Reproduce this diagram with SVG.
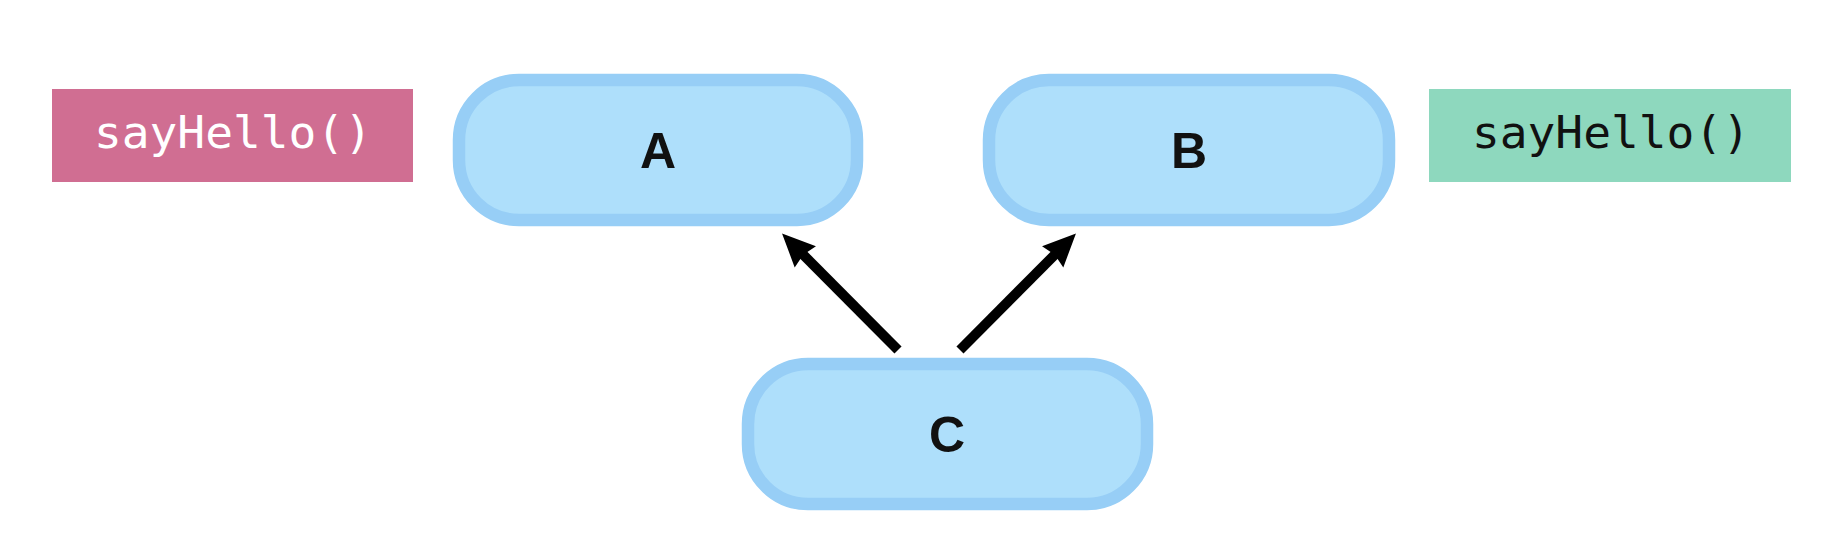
<svg xmlns="http://www.w3.org/2000/svg" width="1830" height="534" viewBox="0 0 1830 534">
  <style>
    .node rect { fill: #AEDFFB; stroke: #97CEF6; stroke-width: 12.5; }
    .node text { font-family: "Liberation Sans", Arial, sans-serif; font-weight: bold; font-size: 50px; fill: #111111; text-anchor: middle; }
    .code text { font-family: "DejaVu Sans Mono", "Liberation Mono", monospace; font-size: 44px; text-anchor: middle; }
    .edge { stroke: #000000; stroke-width: 10; fill: none; stroke-linecap: butt; }
  </style>
  <defs>
    <marker id="arrow" markerUnits="userSpaceOnUse" markerWidth="36" markerHeight="32" refX="4" refY="15" orient="auto" overflow="visible">
      <path d="M0,0 L33,15 L0,30 L3,15 Z" fill="#000000"/>
    </marker>
  </defs>
  <rect width="1830" height="534" fill="#FFFFFF"/>

  <g id="label-a" class="code">
    <rect x="52" y="89" width="361" height="93" fill="#D06E92"/>
    <text transform="translate(233 148) scale(1.05 1)" x="0" y="0" fill="#FFFFFF">sayHello()</text>
  </g>

  <g id="label-b" class="code">
    <rect x="1429" y="89" width="362" height="93" fill="#8ED8BE"/>
    <text transform="translate(1611 148) scale(1.05 1)" x="0" y="0" fill="#111111">sayHello()</text>
  </g>

  <g id="node-a" class="node">
    <rect x="459" y="80" width="398" height="140" rx="60" ry="60"/>
    <text x="658" y="168">A</text>
  </g>

  <g id="node-b" class="node">
    <rect x="989" y="80" width="400" height="140" rx="60" ry="60"/>
    <text x="1189" y="168">B</text>
  </g>

  <g id="node-c" class="node">
    <rect x="748" y="364" width="399" height="140" rx="60" ry="60"/>
    <text x="947" y="452">C</text>
  </g>

  <g id="connectors">
    <line class="edge" x1="898" y1="350" x2="802.5" y2="254" marker-end="url(#arrow)"/>
    <line class="edge" x1="960" y1="350" x2="1055.5" y2="254" marker-end="url(#arrow)"/>
  </g>
</svg>
